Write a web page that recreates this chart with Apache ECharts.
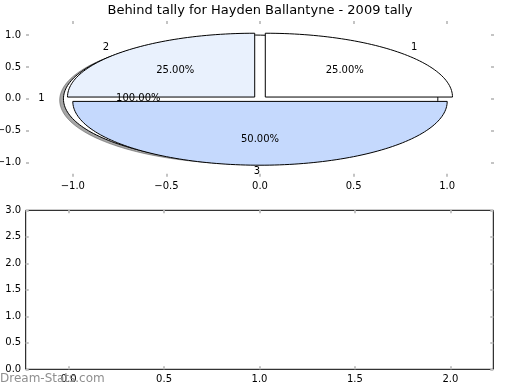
<!DOCTYPE html>
<html><head><meta charset="utf-8">
<script src="https://cdn.jsdelivr.net/npm/echarts@6/dist/echarts.min.js"></script>
<style>html,body{margin:0;padding:0;background:#fff}#c{width:520px;height:390px}</style>
</head><body><div id="c"></div>
<script>
// ---- data ----
const titleText = 'Behind tally for Hayden Ballantyne - 2009 tally';
const overallLabels = ['1'];
const overallValues = [4];
const sliceLabels = ['1', '2', '3'];
const sliceValues = [1, 1, 2];
const sliceColors = ['#ffffff', '#e9f1fd', '#c5d9fd'];
const overallColors = ['#ffffff'];
const topXTicks = [-1.0, -0.5, 0.0, 0.5, 1.0];
const topYTicks = [-1.0, -0.5, 0.0, 0.5, 1.0];
const bottomXTicks = [0.0, 0.5, 1.0, 1.5, 2.0];
const bottomYTicks = [0.0, 0.5, 1.0, 1.5, 2.0, 2.5, 3.0];
const watermark = 'Dream-Stats.com';

// ---- build pie geometry in data units (matplotlib-style pie on cartesian axes) ----
const FONT = 'DejaVu Sans';
function buildPie(values, labels, explode, startDeg) {
  const total = values.reduce((a, b) => a + b, 0);
  let t = startDeg;
  const wedges = [], texts = [];
  values.forEach((v, i) => {
    const frac = v / total;
    const t1 = t, t2 = t + 360 * frac;
    const mid = (t1 + t2) / 2 * Math.PI / 180;
    const cx = explode * Math.cos(mid), cy = explode * Math.sin(mid);
    wedges.push([t1, t2, cx, cy, i]);
    const lx = cx + 1.1 * Math.cos(mid), ly = cy + 1.1 * Math.sin(mid);
    texts.push({ x: lx, y: ly, text: labels[i], align: lx > 0 ? 'left' : 'right' });
    texts.push({ x: cx + 0.6 * Math.cos(mid), y: cy + 0.6 * Math.sin(mid),
      text: (100 * frac).toFixed(2) + '%', align: 'center' });
    t = t2;
  });
  return { wedges, texts };
}
const pieA = buildPie(overallValues, overallLabels, 0.05, 0);
const pieB = buildPie(sliceValues, sliceLabels, 0.04, 0);
const allTexts = pieA.texts.concat(pieB.texts);

function wedgePoints(api, cx, cy, t1, t2) {
  const full = Math.abs(t2 - t1 - 360) < 1e-9;
  const pts = full ? [] : [api.coord([cx, cy])];
  const n = Math.max(12, Math.ceil((t2 - t1) / 1.5));
  for (let i = 0; i <= n; i++) {
    const t = (t1 + (t2 - t1) * i / n) * Math.PI / 180;
    pts.push(api.coord([cx + Math.cos(t), cy + Math.sin(t)]));
  }
  return pts;
}
function wedgeRenderer(colors, shadow) {
  return function (params, api) {
    const t1 = api.value(0), t2 = api.value(1), cx = api.value(2), cy = api.value(3), idx = api.value(4);
    const children = [];
    if (shadow) {
      children.push({ type: 'polygon', shape: { points: wedgePoints(api, cx - 0.02, cy - 0.02, t1, t2) },
        style: { fill: 'rgba(77,77,77,0.5)', stroke: 'rgba(77,77,77,0.5)', lineWidth: 1 } });
    }
    children.push({ type: 'polygon', shape: { points: wedgePoints(api, cx, cy, t1, t2) },
      style: { fill: colors[idx], stroke: '#000', lineWidth: 1 } });
    return { type: 'group', children };
  };
}

function fmt(v) {
  const s = (Math.abs(v) < 1e-9 ? 0 : v).toFixed(1);
  return s.replace('-', '\u2212');
}
const tickStyle = { inside: true, length: 3, lineStyle: { color: '#c4c4c4', width: 2 } };
function makeAxis(grid, min, max, ticks, position, showLabel, margin) {
  return {
    type: 'value', gridIndex: grid, min, max, position,
    axisLine: { show: false, onZero: false },
    splitLine: { show: false },
    axisTick: Object.assign({ customValues: ticks }, tickStyle),
    axisLabel: { show: showLabel, customValues: ticks, formatter: fmt, margin,
      fontFamily: FONT, fontSize: 10, color: '#000' }
  };
}

const chart = echarts.init(document.getElementById('c'), null, { renderer: 'canvas' });
chart.setOption({
  animation: false,
  backgroundColor: '#fff',
  title: { text: titleText, left: 'center', top: 4, padding: 0,
    textStyle: { fontFamily: FONT, fontSize: 13, fontWeight: 'normal', color: '#000' } },
  grid: [
    { left: 26, top: 21, width: 468, height: 155.7, show: false, containLabel: false, outerBoundsMode: 'none' },
    { left: 25.7, top: 210.3, width: 467.6, height: 159, show: true, borderColor: '#000', borderWidth: 1,
      backgroundColor: 'transparent', containLabel: false, outerBoundsMode: 'none' }
  ],
  xAxis: [
    makeAxis(0, -1.25, 1.25, topXTicks, 'bottom', true, 5),
    makeAxis(0, -1.25, 1.25, topXTicks, 'top', false, 5),
    makeAxis(1, -0.225, 2.225, bottomXTicks, 'bottom', true, 5),
    makeAxis(1, -0.225, 2.225, bottomXTicks, 'top', false, 5)
  ],
  yAxis: [
    makeAxis(0, -1.22, 1.22, topYTicks, 'left', true, 5),
    makeAxis(0, -1.22, 1.22, topYTicks, 'right', false, 5),
    makeAxis(1, 0, 3, bottomYTicks, 'left', true, 4.5),
    makeAxis(1, 0, 3, bottomYTicks, 'right', false, 4.5)
  ],
  series: [
    { type: 'custom', xAxisIndex: 0, yAxisIndex: 0, z: 2, data: pieA.wedges,
      renderItem: wedgeRenderer(overallColors, true) },
    { type: 'custom', xAxisIndex: 0, yAxisIndex: 0, z: 3, data: pieB.wedges,
      renderItem: wedgeRenderer(sliceColors, false) },
    { type: 'custom', xAxisIndex: 0, yAxisIndex: 0, z: 4,
      data: allTexts.map((t, i) => [t.x, t.y, i]),
      renderItem: function (params, api) {
        const i = api.value(2), t = allTexts[i];
        const p = api.coord([api.value(0), api.value(1)]);
        return { type: 'text', x: p[0], y: p[1],
          style: { text: t.text, align: t.align, verticalAlign: 'middle',
            font: '10px "' + FONT + '"', fill: '#000' } };
      } }
  ],
  graphic: [
    { type: 'text', left: 0, top: 373, z: 100,
      style: { text: watermark, font: '12px "' + FONT + '"', fill: '#8f8f8f' } }
  ]
});
</script>
</body></html>
